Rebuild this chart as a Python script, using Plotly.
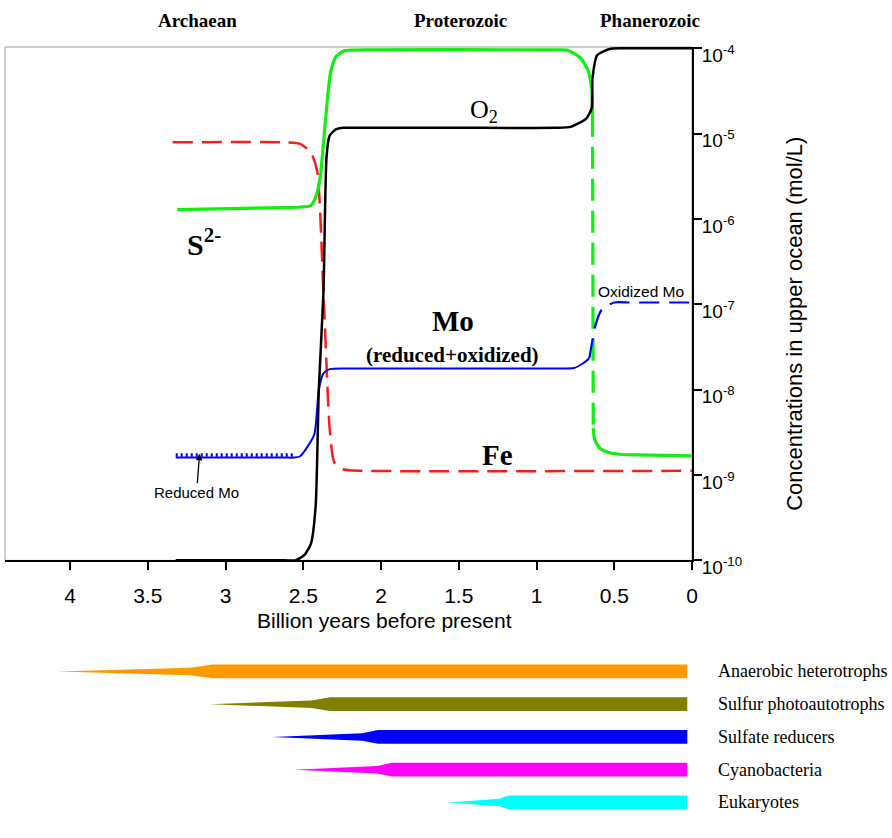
import plotly.graph_objects as go

# time in billion years before present, concentration in mol/L
o2_t = [3.32, 2.62, 2.55, 2.49, 2.45, 2.42, 2.40, 2.37, 2.35, 2.33, 2.29, 2.24, 2.12, 1.50, 0.88, 0.78,
        0.68, 0.645, 0.64, 0.61, 0.53, 0.45, 0.0]
o2_c = [1.0e-10, 1.0e-10, 1.0e-10, 1.17e-10, 1.58e-10, 4.4e-10, 1.0e-8, 1.38e-7, 5.4e-6, 9.5e-6, 1.12e-5,
        1.17e-5, 1.17e-5, 1.17e-5, 1.17e-5, 1.2e-5, 1.5e-5, 2.0e-5, 4.4e-5, 8.3e-5, 9.8e-5, 1.0e-4, 1.0e-4]

s_t = [3.31, 2.60, 2.52, 2.45, 2.41, 2.39, 2.325, 2.29, 2.24, 2.20, 2.10, 0.95, 0.86, 0.80, 0.72, 0.67, 0.645, 0.64]
s_c = [1.29e-6, 1.36e-6, 1.38e-6, 1.44e-6, 2.04e-6, 3.16e-6, 5.15e-5, 7.96e-5, 9.3e-5, 9.5e-5, 9.6e-5,
       9.6e-5, 9.6e-5, 9.5e-5, 7.8e-5, 5.6e-5, 3.3e-5, 1.66e-5]
s_drop_t = [0.64, 0.635]
s_drop_c = [1.66e-5, 3.55e-9]
s_late_t = [0.635, 0.625, 0.59, 0.53, 0.45, 0.35, 0.0]
s_late_c = [3.55e-9, 2.57e-9, 2.04e-9, 1.82e-9, 1.74e-9, 1.72e-9, 1.68e-9]

fe_t = [3.34, 2.60, 2.52, 2.45, 2.41, 2.37, 2.33, 2.30, 2.24, 2.12, 0.0]
fe_c = [7.9e-6, 7.9e-6, 7.6e-6, 6.0e-6, 3.6e-6, 1.38e-7, 3.5e-9, 1.4e-9, 1.16e-9, 1.12e-9, 1.12e-9]

mo_t = [3.32, 2.62, 2.56, 2.52, 2.43, 2.40, 2.37, 2.33, 2.22, 0.85, 0.76, 0.70, 0.66]
mo_c = [1.6e-9, 1.6e-9, 1.6e-9, 1.66e-9, 2.95e-9, 1.0e-8, 1.55e-8, 1.74e-8, 1.77e-8, 1.77e-8, 1.79e-8,
        2.04e-8, 2.34e-8]
mo_ox_t = [0.66, 0.62, 0.58, 0.50, 0.40, 0.0]
mo_ox_c = [2.34e-8, 5.75e-8, 8.7e-8, 1.05e-7, 1.05e-7, 1.05e-7]
mo_red_t = [3.32, 2.56]
mo_red_c = [1.71e-9, 1.71e-9]

x_ticks = [4, 3.5, 3, 2.5, 2, 1.5, 1, 0.5, 0]
x_labels = ["4", "3.5", "3", "2.5", "2", "1.5", "1", "0.5", "0"]
y_ticks = [1e-10, 1e-9, 1e-8, 1e-7, 1e-6, 1e-5, 1e-4]
y_labels = ["10<sup>-10</sup>", "10<sup>-9</sup>", "10<sup>-8</sup>", "10<sup>-7</sup>",
            "10<sup>-6</sup>", "10<sup>-5</sup>", "10<sup>-4</sup>"]

# first appearance, time of full abundance, end of bar
taxa = ["Anaerobic heterotrophs", "Sulfur photoautotrophs", "Sulfate reducers", "Cyanobacteria", "Eukaryotes"]
taxa_origin = [4.08, 3.10, 2.70, 2.56, 1.57]
taxa_full = [3.08, 2.33, 2.02, 1.93, 1.18]
taxa_end = [0.03, 0.03, 0.03, 0.03, 0.03]
taxa_colors = ["#ff9900", "#808000", "#0000ff", "#ff00ff", "#00ffff"]

SERIF = "Liberation Serif"
SANS = "Liberation Sans"
GREEN = "#11ee11"

fig = go.Figure()


def curve(t, c, color, width, dash="solid"):
    fig.add_trace(go.Scatter(x=t, y=c, mode="lines",
                             line=dict(color=color, width=width, dash=dash, shape="spline", smoothing=0.6),
                             showlegend=False, hoverinfo="skip"))


curve(fe_t, fe_c, "#ff1a1a", 2.5, "20px,9px")
curve(s_t, s_c, GREEN, 3.2)
curve(s_drop_t, s_drop_c, GREEN, 3.2, "22px,10px")
curve(s_late_t, s_late_c, GREEN, 3.2)
curve(mo_t, mo_c, "#0000ff", 2)
curve(mo_ox_t, mo_ox_c, "#0000ff", 2.2, "20px,10px")
curve(mo_red_t, mo_red_c, "#0000ff", 3.5, "2px,3px")
curve(o2_t, o2_c, "black", 2.5)

# tapered bars for the microbial groups
h = 0.21
for i, name in enumerate(taxa):
    o, f, e = taxa_origin[i], taxa_full[i], taxa_end[i]
    m = o + 0.85 * (f - o)
    xs = [o, m, f, e, e, f, m, o]
    ys = [i, i - 0.55 * h, i - h, i - h, i + h, i + h, i + 0.55 * h, i]
    fig.add_trace(go.Scatter(x=xs, y=ys, xaxis="x2", yaxis="y2", mode="lines", fill="toself",
                             fillcolor=taxa_colors[i], line=dict(width=0, color=taxa_colors[i]),
                             showlegend=False, hoverinfo="skip"))

ann = []


def label(x, y, text, size, font=SERIF, bold=True, **kw):
    kw.setdefault("xanchor", "center")
    ann.append(dict(x=x, y=y, xref=kw.pop("xref", "x"), yref=kw.pop("yref", "y"),
                    text=f"<b>{text}</b>" if bold else text, showarrow=False, yanchor="middle",
                    font=dict(family=font, size=size, color="black"), **kw))


label(3.18, 1.0342, "Archaean", 19, yref="paper")
label(1.49, 1.0342, "Proterozoic", 19, yref="paper")
label(0.27, 1.0342, "Phanerozoic", 19, yref="paper")
label(1.34, -4.74, "O<sub>2</sub>", 26, bold=False)
label(3.14, -6.27, "S<sup>2-</sup>", 30)
label(1.537, -7.19, "Mo", 29)
label(1.54, -7.59, "(reduced+oxidized)", 21)
label(1.253, -8.77, "Fe", 29)
label(0.327, -6.853, "Oxidized Mo", 15.5, font=SANS, bold=False)
label(3.186, -9.207, "Reduced Mo", 15, font=SANS, bold=False)
ann.append(dict(x=3.167, y=-8.752, xref="x", yref="y", ax=3.182, ay=-9.115, axref="x", ayref="y", text="",
                showarrow=True, arrowhead=2, arrowsize=1, arrowwidth=1.3, arrowcolor="black"))
label(0.552, 0.2585, "Billion years before present", 21, font=SANS, bold=False, xref="paper", yref="paper")
label(1.150, 0.642, "Concentrations in upper ocean (mol/L)", 22, font=SANS, bold=False,
      xref="paper", yref="paper", textangle=-90)
for i, name in enumerate(taxa):
    label(1.035, i, name, 18, bold=False, xref="paper", yref="y2", xanchor="left")

axis_font = dict(family=SANS, size=21, color="black")
fig.update_layout(
    width=892, height=838,
    margin=dict(l=5, r=200, t=47, b=0),
    paper_bgcolor="white", plot_bgcolor="white",
    xaxis=dict(range=[4.418, 0], domain=[0, 1], anchor="y", showgrid=False, zeroline=False,
               showline=True, linecolor="black", linewidth=2, ticks="outside", ticklen=8, tickwidth=2,
               tickcolor="black", tickvals=x_ticks, ticktext=x_labels, tickfont=axis_font,
               ticklabelstandoff=7),
    yaxis=dict(type="log", range=[-10, -3.985], domain=[0.3359, 1], anchor="x", side="right",
               showgrid=False, zeroline=False, showline=True, linecolor="black", linewidth=2,
               ticks="outside", ticklen=8, tickwidth=2, tickcolor="black", ticklabelshift=7,
               ticklabelstandoff=-4, tickvals=y_ticks, ticktext=y_labels,
               tickfont=dict(family=SANS, size=19, color="black")),
    xaxis2=dict(range=[4.418, 0], domain=[0, 1], anchor="y2", visible=False),
    yaxis2=dict(range=[4.537, -0.478], domain=[0, 0.2124], anchor="x2", visible=False),
    annotations=ann,
    shapes=[dict(type="rect", xref="x domain", yref="y domain", x0=0, x1=1, y0=0, y1=1,
                 line=dict(color="#a0a0a0", width=1), layer="below")],
)

fig.write_html("out.html", config={"displayModeBar": False},
               post_script="document.body.style.margin='0';")
